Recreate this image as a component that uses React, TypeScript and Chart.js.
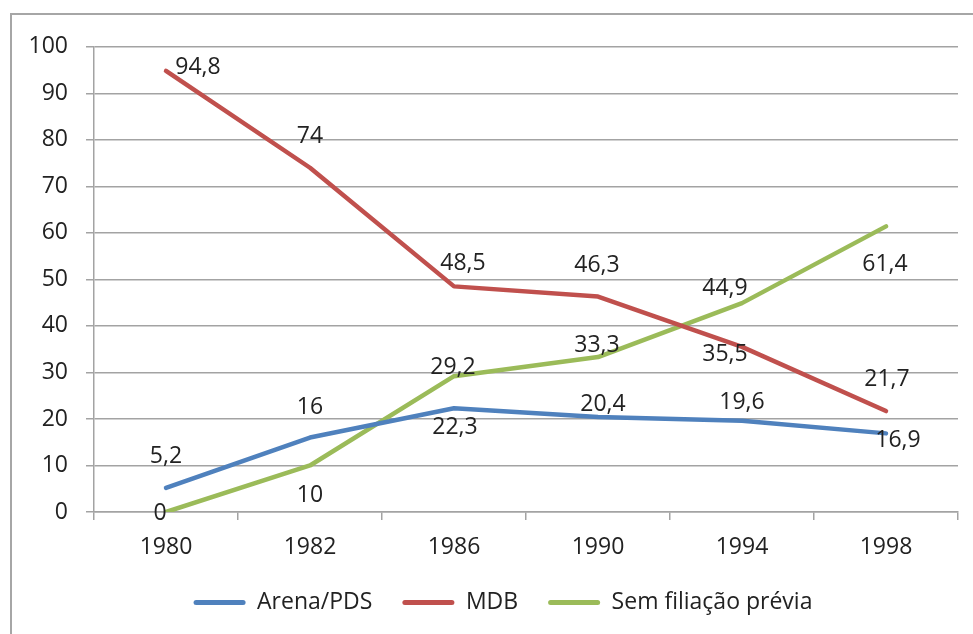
import React, { useEffect, useRef } from "react";
import { Chart, registerables } from "chart.js";

Chart.register(...registerables);

const years = ["1980", "1982", "1986", "1990", "1994", "1998"];
const seriesNames = ["Arena/PDS", "MDB", "Sem filiação prévia"];
const arenaPds = [5.2, 16, 22.3, 20.4, 19.6, 16.9];
const mdb = [94.8, 74, 48.5, 46.3, 35.5, 21.7];
const semFiliacao = [0, 10, 29.2, 33.3, 44.9, 61.4];
const yMin = 0;
const yMax = 100;
const yStep = 10;

// label placement relative to each point (dx, dy in px)
const arenaLabelOffsets = [[0, -33], [0, -32], [1, 18], [5, -14], [0, -20], [12, 5]];
const mdbLabelOffsets = [[32, -5], [0, -33], [9, -25], [-1, -33], [-17, 6], [1, -33]];
const semLabelOffsets = [[-6, 0], [0, 28], [-1, -10], [-1, -13], [-17, -16], [-1, 36]];

const colors = ["#4F81BD", "#C0504D", "#9BBB59"];
const textColor = "#222222";
const gridColor = "#a3a3a3";
const FONT = "Open Sans";
const FS = 23;

const fmt = (v: number) => String(v).replace(".", ",");

const pointLabelPlugin = {
  id: "pointLabels",
  afterDatasetsDraw(chart: any) {
    const offsets = [arenaLabelOffsets, mdbLabelOffsets, semLabelOffsets];
    const ctx = chart.ctx;
    ctx.save();
    ctx.font = `${FS}px "${FONT}"`;
    ctx.fillStyle = textColor;
    ctx.textAlign = "center";
    ctx.textBaseline = "alphabetic";
    chart.data.datasets.forEach((ds: any, i: number) => {
      const meta = chart.getDatasetMeta(i);
      meta.data.forEach((pt: any, j: number) => {
        const off = offsets[i][j];
        ctx.fillText(fmt(ds.data[j]), pt.x + off[0], pt.y + off[1] + FS * 0.357);
      });
    });
    ctx.restore();
  },
};

export default function App() {
  const ref = useRef<HTMLCanvasElement | null>(null);

  useEffect(() => {
    if (!ref.current) return;
    const font = { family: FONT, size: FS };
    const chart = new Chart(ref.current, {
      type: "line",
      data: {
        labels: years,
        datasets: [arenaPds, mdb, semFiliacao].map((d, i) => ({
          label: seriesNames[i],
          data: d,
          borderColor: colors[i],
          backgroundColor: colors[i],
          borderWidth: 4.5,
          borderCapStyle: "round" as const,
          borderJoinStyle: "round" as const,
          pointRadius: 0,
          tension: 0,
          fill: false,
          yAxisID: "y",
        })),
      },
      options: {
        responsive: false,
        animation: false,
        layout: { padding: { left: 0, right: 0, top: 29, bottom: 31 } },
        plugins: {
          tooltip: { enabled: false },
          legend: {
            position: "bottom",
            labels: {
              boxWidth: 52,
              boxHeight: 5,
              useBorderRadius: true,
              borderRadius: 2.5,
              padding: 30,
              font,
              color: textColor,
              generateLabels: (c: any) =>
                Chart.defaults.plugins.legend.labels
                  .generateLabels(c)
                  .map((l: any) => ({ ...l, lineWidth: 0 })),
            },
          },
        },
        scales: {
          x: {
            offset: true,
            grid: {
              offset: true,
              drawOnChartArea: false,
              drawTicks: true,
              tickLength: 8,
              color: gridColor,
              lineWidth: 1.5,
            },
            border: { display: true, color: gridColor, width: 1.5 },
            ticks: { padding: 14, font, color: textColor, maxRotation: 0 },
            afterFit: (s: any) => {
              s.height = 49;
            },
          },
          y: {
            min: yMin,
            max: yMax,
            ticks: { stepSize: yStep, padding: 18, font, color: textColor },
            grid: { color: gridColor, lineWidth: 1.5, tickLength: 8 },
            border: { display: true, color: gridColor, width: 1.5 },
            afterFit: (s: any) => {
              s.width = 82;
            },
          },
          y2: {
            position: "right",
            display: true,
            grid: { display: false },
            border: { display: false },
            ticks: { display: false },
            afterFit: (s: any) => {
              s.width = 36;
            },
          },
        },
      },
      plugins: [pointLabelPlugin],
    } as any);
    return () => chart.destroy();
  }, []);

  return (
    <div
      style={{
        position: "fixed",
        left: 0,
        top: 0,
        width: 973,
        height: 634,
        overflow: "hidden",
        background: "#fff",
      }}
    >
      <div
        style={{
          position: "absolute",
          left: 10,
          top: 13,
          border: "2px solid #a6a6a6",
          width: 982,
          height: 640,
        }}
      >
        <canvas ref={ref} width={982} height={640} style={{ display: "block" }} />
      </div>
    </div>
  );
}
